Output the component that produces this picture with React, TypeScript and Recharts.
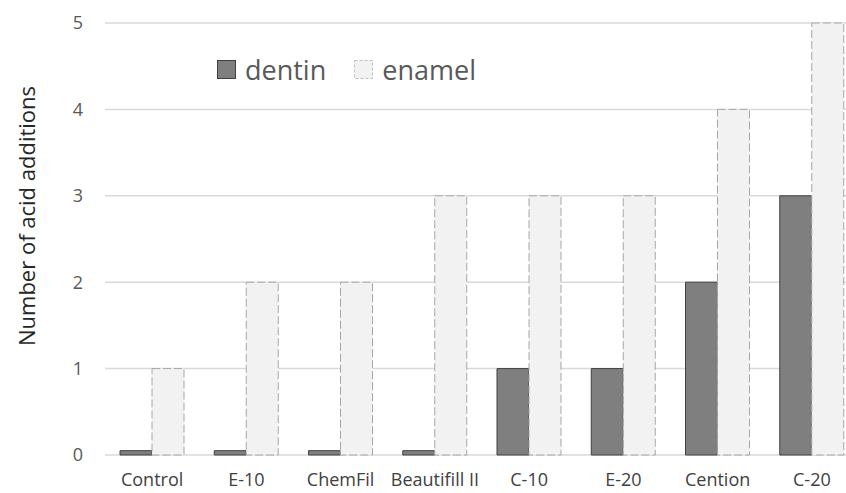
import React from 'react';
import { BarChart, Bar, XAxis, YAxis, CartesianGrid, Legend } from 'recharts';

const categories = ['Control', 'E-10', 'ChemFil', 'Beautifill II', 'C-10', 'E-20', 'Cention', 'C-20'];
const dentin = [0.05, 0.05, 0.05, 0.05, 1, 1, 2, 3];
const enamel = [1, 2, 2, 3, 3, 3, 4, 5];
const yTicks = [0, 1, 2, 3, 4, 5];

const FONT = '"Open Sans", sans-serif';

const data = categories.map((name, i) => ({ name, dentin: dentin[i], enamel: enamel[i] }));

const legendItems = [
  { key: 'dentin', fill: '#7f7f7f', stroke: '#404040', dash: undefined },
  { key: 'enamel', fill: '#f2f2f2', stroke: '#bfbfbf', dash: '3 2' },
];

const renderLegend = () => (
  <div style={{ display: 'flex', alignItems: 'center', fontFamily: FONT, fontSize: 27, color: '#595959' }}>
    {legendItems.map((it, i) => (
      <div key={it.key} style={{ display: 'flex', alignItems: 'center', marginRight: i === 0 ? 28 : 0 }}>
        <svg width={20} height={20} style={{ marginRight: 8 }}>
          <rect x={0.5} y={0.5} width={18} height={18} fill={it.fill} stroke={it.stroke} strokeDasharray={it.dash} />
        </svg>
        <span style={{ lineHeight: '30px' }}>{it.key}</span>
      </div>
    ))}
  </div>
);

const YLabel = (props: any) => {
  const vb = props.viewBox || { x: 0, y: 0, width: 0, height: 0 };
  const cx = vb.x + 26;
  const cy = vb.y + vb.height / 2 - 23;
  return (
    <text
      x={cx}
      y={cy}
      transform={`rotate(-90 ${cx} ${cy})`}
      textAnchor="middle"
      dominantBaseline="central"
      fontFamily={FONT}
      fontSize={22}
      fill="#262626"
    >
      Number of acid additions
    </text>
  );
};

export default function App() {
  return (
    <div style={{ position: 'absolute', left: 0, top: 0, width: 846, height: 493, overflow: 'hidden', background: '#fff' }}>
      <BarChart
        width={860}
        height={493}
        data={data}
        margin={{ top: 23, right: 1, bottom: 0, left: 0 }}
        barCategoryGap={15}
        barGap={0}
      >
        <CartesianGrid vertical={false} stroke="#d9d9d9" strokeWidth={1.5} />
        <XAxis
          dataKey="name"
          axisLine={false}
          tickLine={false}
          tickSize={0}
          tickMargin={18}
          height={38}
          interval={0}
          tick={{ fontFamily: FONT, fontSize: 18, fill: '#404040' }}
        />
        <YAxis
          domain={[0, 5]}
          ticks={yTicks}
          axisLine={false}
          tickLine={false}
          tickSize={0}
          tickMargin={22}
          width={105}
          tick={{ fontFamily: FONT, fontSize: 18, fill: '#595959' }}
          label={<YLabel />}
        />
        <Legend
          verticalAlign="middle"
          align="center"
          content={renderLegend}
          wrapperStyle={{ left: 217, top: 55, width: 'auto', height: 30 }}
        />
        <Bar dataKey="dentin" fill="#7f7f7f" stroke="#404040" strokeWidth={1} isAnimationActive={false} />
        <Bar
          dataKey="enamel"
          fill="#f2f2f2"
          stroke="#a6a6a6"
          strokeWidth={1}
          strokeDasharray="8 3"
          isAnimationActive={false}
        />
      </BarChart>
    </div>
  );
}
